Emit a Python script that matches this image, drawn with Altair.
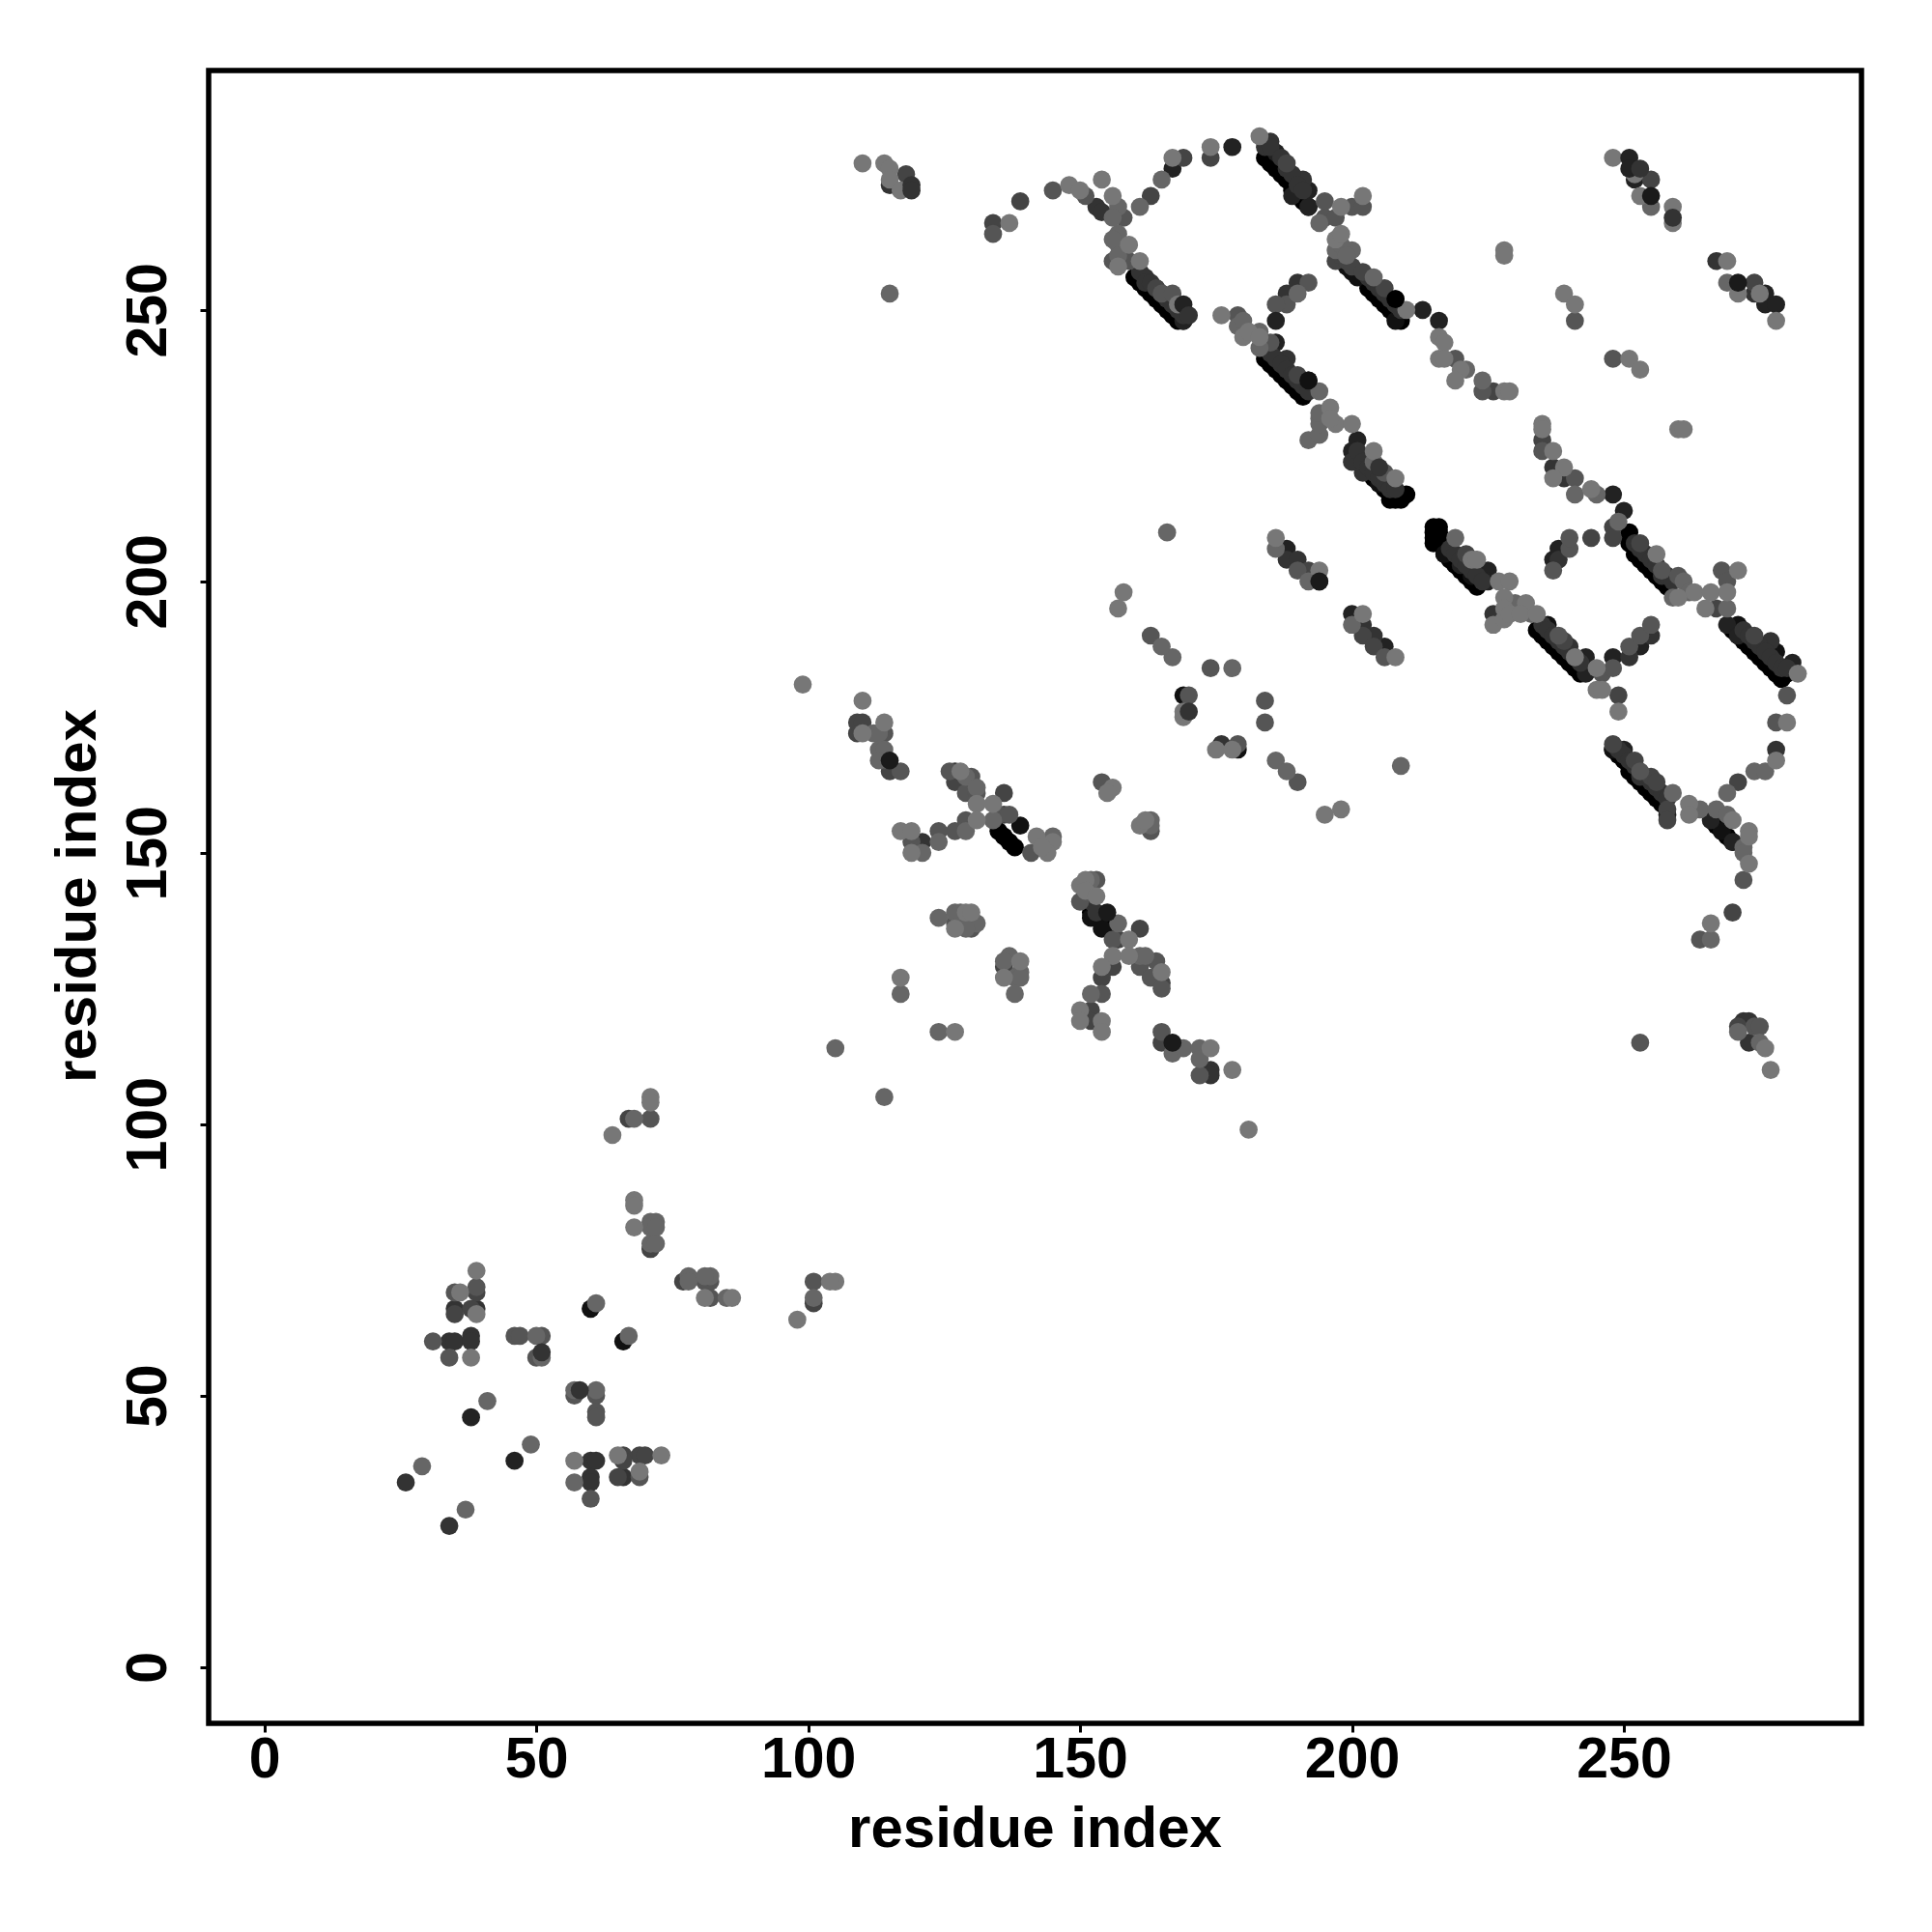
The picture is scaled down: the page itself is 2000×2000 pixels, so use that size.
import altair as alt
import pandas as pd

# points per grey level, drawn darkest first: (residue i, residue j)
g00 = [(207,215),(208,216),(208,215),(209,215),(210,216),(209,216),(215,210),(216,210),(215,209),(215,208),(215,207),(216,208),(216,209),
 (184,278),(185,277),(186,276),(187,275),(188,274),(189,272),(190,271),(191,270),(192,269),
 (160,256),(161,255),(162,254),(163,253),(164,252),(165,251),(166,250),(167,249),(168,248),(169,248),
 (184,241),(185,240),(186,239),(187,238),(188,237),(189,236),(190,235),(191,234),
 (201,222),(202,221),(203,220),(204,219),(205,218),(206,217),(207,216),
 (202,256),(203,254),(204,253),(205,252),(206,251),(207,250),(208,249),(209,248),
 (217,205),(218,204),(219,203),(220,202),(221,201),(222,200),(223,199),
 (234,191),(235,190),(236,189),(237,188),(238,187),(239,186),(240,185),(241,184),(242,183),
 (251,209),(251,207),(252,205),(253,204),(254,203),(255,202),(256,201),(257,200),(258,199),
 (270,191),(271,190),(272,189),(273,188),(274,187),(275,186),(276,185),(277,184),(278,183),(279,182),(280,183),
 (248,169),(249,168),(250,167),(251,165),(252,164),(253,163),(254,162),(255,161),(256,160),(257,159),
 (135,154),(136,153),(137,152),(138,151),(152,139),(153,138),(154,137),(155,136),(267,155),(268,154),(269,153),(270,152)]
g11 = [(60,66),(66,60),(139,155),(169,179),(179,169),(208,252),(208,248),(205,218),(194,200),(217,205),(222,201),(236,192),
 (271,192),(278,187),(248,169),(268,154),(154,136),(152,138),(192,237),(199,258),(200,257),(201,256)]
g22 = [(46,38),(38,46),(167,276),(178,280),(186,279),(189,271),(192,269),(192,272),(169,248),(186,244),
 (200,224),(201,226),(248,216),(250,213),(213,250),(216,248),(252,274),(276,253),(276,251),(278,251),
 (188,206),(200,194),(206,188),(220,203),(225,202),(225,200),(243,186),(243,183),(248,186),(237,204),(238,206),(253,188),
 (269,192),(271,190),(281,185),(250,169),(258,157),(266,156),(270,152)]
g33 = [(39,66),(35,66),(34,60),(35,60),(38,61),(38,60),(26,34),(34,26),(60,38),(61,38),(60,35),(60,34),(66,35),(121,152),(127,165),
 (174,110),(174,109),(176,170),(152,141),(153,139),(153,269),(154,268),(162,256),(184,280),(185,281),(191,274),(188,241),(188,253),(190,255),
 (200,222),(202,220),(237,221),(239,219),(267,259),(274,253),(188,204),(190,204),(204,190),(202,192),(226,194),(240,188),(251,186),(255,190),
 (238,204),(277,189),(278,169),(272,119),(273,119),(273,115),(115,273),
 (185,280),(187,278),(188,276),(189,275),(190,273),(191,272),
 (161,257),(162,255),(163,255),(164,254),(165,253),(166,252),(167,251),(168,250),(169,249),
 (185,242),(186,241),(187,240),(188,239),(189,238),(190,237),(191,236),(192,235),
 (201,224),(202,222),(203,221),(204,220),(205,219),(206,218),(207,217),(208,217),
 (203,256),(204,255),(205,254),(206,253),(207,252),(208,251),(209,250),
 (218,206),(219,205),(220,204),(221,203),(222,202),(223,201),(224,200),
 (235,192),(236,191),(237,190),(238,189),(239,188),(240,187),(241,186),(242,185),
 (252,207),(253,206),(254,205),(255,204),(256,203),(257,201),(258,201),(259,200),
 (272,191),(273,190),(274,189),(275,188),(276,187),(277,186),(278,185),(279,184),(280,184),
 (249,169),(250,168),(251,167),(252,166),(253,164),(254,164),(255,163),(256,162),(257,161),(258,160)]
g44 = [(67,101),(71,77),(77,71),(39,69),(35,65),(38,66),(101,67),(69,39),(70,39),(66,39),(66,38),(65,35),
 (109,172),(109,174),(110,174),(115,165),(127,163),(136,161),(136,157),(156,129),(154,127),(152,121),(152,119),(165,126),(165,115),(136,129),(161,136),(157,134),
 (134,266),(139,270),(163,271),(164,254),(169,278),(174,278),(188,277),(190,238),(206,254),(226,235),(235,226),(255,274),(274,255),
 (192,202),(202,190),(204,188),(221,205),(239,189),(249,179),(244,208),(248,210),(248,208),(253,207),(267,195),(274,190),
 (248,170),(252,167),(255,164),(256,163),(258,158),(258,156),(271,163),(271,118),(270,139),(118,275),
 (197,259),(198,260),(199,259),(200,258),(202,257)]
g55 = [(71,101),(82,71),(81,71),(82,68),(101,71),(35,69),(39,70),(31,60),(34,57),(46,61),(47,61),(51,61),(50,57),(57,50),(61,50),(61,47),(61,46),(60,31),(69,35),
 (114,172),(114,167),(117,165),(126,165),(130,164),(129,161),(131,161),(135,157),(137,157),(127,154),(129,156),(124,154),(119,152),(141,150),(154,163),(163,154),
 (170,179),(179,170),(153,145),(150,141),(156,134),(164,130),(161,129),(163,127),(165,125),(154,124),(165,117),(172,109),(127,137),(130,136),
 (134,264),(145,272),(151,271),(158,267),(156,259),(165,253),(167,253),(179,249),(188,251),(186,251),(185,244),(192,255),(195,270),(195,267),(197,267),(200,269),(202,269),(206,220),
 (219,241),(224,235),(241,248),(248,241),(235,224),(241,219),(190,202),(206,186),(184,178),(184,174),(190,163),(238,190),(246,183),(248,184),(251,188),(253,190),(255,192),
 (237,202),(240,206),(240,208),(257,202),(260,201),(268,202),(269,200),(278,174),(280,179),(253,165),(272,145),(264,134),(253,115),(274,118),(275,118),
 (163,190),(174,184),(158,260),(159,259)]
g66 = [(71,82),(72,82),(71,81),(72,81),(71,78),(72,78),(78,72),(78,71),(82,72),(81,72),(85,68),(101,68),(68,101),(50,61),(51,57),(61,67),(67,61),(41,49),(49,41),(29,37),(37,29),(57,51),(61,51),(57,34),
 (112,172),(113,172),(113,169),(114,169),(113,167),(129,164),(131,162),(134,156),(124,152),(129,154),(145,153),(121,150),(163,156),(163,155),(167,186),(178,184),(152,145),(157,137),(161,131),(162,131),(152,124),
 (167,113),(169,114),(172,114),(172,112),(124,138),(127,139),(128,139),(131,137),(129,136),(137,131),(136,130),(139,128),(138,127),(139,127),(138,124),(117,124),(124,117),(105,114),(114,105),
 (161,269),(165,274),(157,269),(157,264),(157,262),(156,267),(183,246),(183,243),(179,247),(180,248),(194,235),(192,226),(194,227),(194,230),(194,229),(194,231),(190,253),(197,261),(200,261),(204,222),(194,266),(204,256),
 (221,239),(224,237),(241,216),(245,216),(269,255),(255,269),(186,206),(192,200),(200,192),(186,167),(188,165),(209,166),(219,208),(230,196),(233,194),(261,200),(259,197),(262,198),(269,195),(249,211),(259,161),
 (269,161),(274,165),(276,165),(264,158),(267,158),(269,157),(272,151),(272,150),(115,253),(266,134),(275,115),(271,117),(166,209),(165,188),
 (156,263),(157,260),(198,262),(199,260)]
g77 = [(71,105),(71,104),(68,86),(68,85),(68,81),(64,98),(81,68),(86,68),(105,71),(104,71),(98,64),(39,73),(36,69),(39,65),(38,57),(57,38),(65,39),(73,39),(69,36),
 (99,181),(110,178),(110,172),(114,174),(128,165),(131,159),(134,159),(142,153),(145,152),(144,150),(143,151),(117,154),(119,154),(119,150),(131,156),(156,162),(155,161),(161,155),(162,156),
 (169,175),(169,176),(175,169),(178,169),(150,144),(151,145),(151,143),(153,142),(159,134),(156,131),(159,131),(165,128),(154,129),(150,121),(150,119),(154,119),(154,117),(174,114),(178,110),(181,99),
 (129,139),(130,139),(127,136),(139,130),(136,127),(117,127),(127,117),(137,266),(148,273),(150,272),(154,274),(156,271),(159,262),(161,259),(157,258),(168,251),(174,280),(167,278),(183,282),(198,269),(202,271),
 (197,263),(198,264),(176,249),(180,245),(181,246),(183,245),(196,232),(197,229),(200,229),(196,230),(204,224),(208,219),(210,250),(216,245),(217,244),(216,241),(217,241),(220,239),(219,237),(228,235),(229,235),
 (228,261),(228,260),(239,253),(241,251),(251,241),(253,239),(248,278),(252,275),(253,271),(259,269),(259,266),(269,259),(271,253),(275,253),(278,248),(235,229),(235,228),(237,224),(239,221),(237,219),(244,217),(260,228),(261,228),
 (186,208),(194,202),(202,194),(208,186),(195,157),(198,158),(222,204),(223,204),(226,192),(227,200),(229,200),(228,197),(228,195),(228,193),(232,196),(229,194),(231,194),(234,194),(241,186),(245,184),(245,180),(246,180),(249,176),
 (256,205),(260,197),(263,198),(266,198),(271,202),(269,198),(265,195),(282,183),(280,174),(278,167),(262,159),(262,157),(270,156),(273,154),(273,153),(273,148),(266,137),(276,114),(277,110),(110,277),(114,277),(115,276),(115,274),(117,272),
 (157,195),(158,198)]
# dark points that sit on top of the lighter ones
top_dark = [(51,58,"#333333"),(58,51,"#333333"),(271,255,"#1a1a1a"),(255,271,"#1a1a1a"),(115,167,"#1a1a1a"),(167,115,"#1a1a1a"),
 (155,139,"#1a1a1a"),(186,248,"#222222"),(251,278,"#222222"),(251,276,"#222222"),(253,276,"#333333"),(192,237,"#111111"),
 (169,251,"#222222"),(170,249,"#333333"),(119,273,"#333333"),(119,272,"#333333"),(205,221,"#333333"),(259,267,"#333333"),
 (170,176,"#333333"),(208,252,"#000000"),(194,200,"#1a1a1a")]

x_ticks = [0, 50, 100, 150, 200, 250]
axis_title = "residue index"

rows = []
for gray, pts in [("#000000", g00), ("#111111", g11), ("#222222", g22), ("#333333", g33),
                  ("#444444", g44), ("#555555", g55), ("#666666", g66), ("#777777", g77)]:
    rows += [{"i": p[0], "j": p[1], "gray": gray} for p in pts]
rows += [{"i": p[0], "j": p[1], "gray": p[2]} for p in top_dark]
df = pd.DataFrame(rows)

FONT = "Liberation Sans"

def axis(**kw):
    return alt.Axis(values=x_ticks, grid=False, domain=False, ticks=True, tickSize=9, tickWidth=3, tickColor="black",
                    labelFont=FONT, labelFontWeight="bold", labelFontSize=59, labelColor="black", labelBaseline="alphabetic",
                    titleFont=FONT, titleFontWeight="bold", titleFontSize=60, titleColor="black", titleBaseline="alphabetic",
                    titleAlign="center", labelOverlap=False, **kw)

chart = (
    alt.Chart(df)
    .mark_circle(size=350, opacity=1)
    .encode(
        x=alt.X("i:Q", scale=alt.Scale(domain=[-10.25, 293.7], nice=False, zero=False),
                axis=axis(title=axis_title, labelPadding=46, labelAngle=0, labelAlign="center", titleX=855, titleY=127)),
        y=alt.Y("j:Q", scale=alt.Scale(domain=[-10.37, 294.1], nice=False, zero=False),
                axis=axis(title=axis_title, labelPadding=36, labelAngle=270, labelAlign="center", titleX=-118, titleY=854, titleAngle=270)),
        color=alt.Color("gray:N", scale=None, legend=None),
    )
    .properties(width=1711, height=1711, background="white", autosize=alt.AutoSizeParams(type="none"),
                padding={"left": 208, "top": 65, "right": 60, "bottom": 200})
    .configure_view(stroke="black", strokeWidth=5.5, fill="white")
)
chart.save("out.html", embed_options={"renderer": "svg", "actions": False})
